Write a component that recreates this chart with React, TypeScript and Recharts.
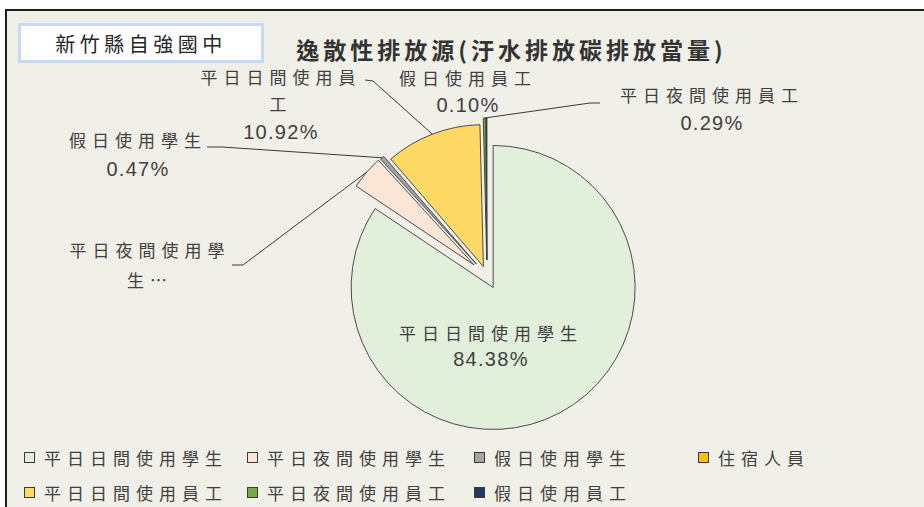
import React from 'react';
import { PieChart, Pie, Cell, Sector, Legend } from 'recharts';

// 逸散性排放源 – share of each user group (%)
const groups = ['平日日間使用學生', '平日夜間使用學生', '假日使用學生', '住宿人員', '平日日間使用員工', '平日夜間使用員工', '假日使用員工'];
const shares = [84.38, 3.84, 0.47, 0, 10.92, 0.29, 0.1];
const shareLabels = ['84.38%', '', '0.47%', '', '10.92%', '0.29%', '0.10%'];

const sliceColors = ['#e2efda', '#fbe5d6', '#a5a5a5', '#ffc000', '#ffd966', '#70ad47', '#203864'];
// how far each slice is pulled out of the pie (px)
const explode = [13, 17, 16, 16, 10, 16, 16];

const data = groups.map((name, i) => ({ name, value: shares[i] }));

const RAD = Math.PI / 180;
const TEXT = '#404040';
const CJK = "'Noto Sans CJK TC', 'Noto Sans CJK SC', sans-serif";
const LATIN = "'Liberation Sans', Arial, 'Noto Sans CJK TC', sans-serif";

// data label placement, Excel style (text centre, line y's, leader elbow)
const labelLayout: Record<number, { x: number; ys: number[]; lines: string[]; elbow?: number[][] }> = {
  0: { x: 491, ys: [332, 359], lines: [groups[0], shareLabels[0]] },
  1: { x: 150, ys: [249, 279], lines: ['平日夜間使用學', '生…'], elbow: [[232, 265], [243, 265]] },
  2: { x: 138, ys: [139, 169], lines: [groups[2], shareLabels[2]], elbow: [[207, 147], [222, 147]] },
  4: { x: 281, ys: [76, 103, 132], lines: ['平日日間使用員', '工', shareLabels[4]], elbow: [[365, 80], [373, 81]] },
  5: { x: 712, ys: [94, 123], lines: [groups[5], shareLabels[5]], elbow: [[600, 103], [590, 103]] },
  6: { x: 468, ys: [77, 105], lines: [groups[6], shareLabels[6]] },
};

const isLatin = (s: string) => /^[0-9.%]+$/.test(s);

const ExplodedSector = (props: any) => {
  const name = props.name ?? props.payload?.name;
  const idx = groups.indexOf(name);
  const off = explode[idx] ?? 0;
  const dx = off * Math.cos(-props.midAngle * RAD);
  const dy = off * Math.sin(-props.midAngle * RAD);
  return (
    <Sector
      cx={props.cx + dx}
      cy={props.cy + dy}
      innerRadius={props.innerRadius}
      outerRadius={props.outerRadius}
      startAngle={props.startAngle}
      endAngle={props.endAngle}
      fill={props.fill}
      stroke="#3a3a3a"
      strokeWidth={0.9}
    />
  );
};

const renderLabel = (props: any) => {
  const { index, cx, cy, outerRadius, midAngle } = props;
  const lay = labelLayout[index];
  if (!lay) return null;
  const r = outerRadius + (explode[index] ?? 0);
  const px = cx + r * Math.cos(-midAngle * RAD);
  const py = cy + r * Math.sin(-midAngle * RAD);
  return (
    <g>
      {lay.elbow && (
        <polyline
          points={[...lay.elbow, [px, py]].map((p) => p.join(',')).join(' ')}
          fill="none"
          stroke="#3a3a3a"
          strokeWidth={1}
        />
      )}
      {lay.lines.map((t, i) => (
        <text
          key={i}
          x={lay.x}
          y={lay.ys[i]}
          textAnchor="middle"
          dominantBaseline="central"
          fill={TEXT}
          fontSize={isLatin(t) ? 20 : 17}
          fontFamily={isLatin(t) ? LATIN : CJK}
          letterSpacing={isLatin(t) ? 1.3 : 6}
        >
          {t}
        </text>
      ))}
    </g>
  );
};

const legendCols = [24, 247, 474, 698];

const renderLegend = () => (
  <div style={{ position: 'relative', width: 924, height: 70 }}>
    {groups.map((g, i) => {
      const row = i < 4 ? 0 : 1;
      const col = i < 4 ? i : i - 4;
      return (
        <div
          key={g}
          style={{
            position: 'absolute',
            left: legendCols[col],
            top: row * 35,
            height: 22,
            display: 'flex',
            alignItems: 'center',
            whiteSpace: 'nowrap',
          }}
        >
          <span
            style={{
              width: 9,
              height: 9,
              background: sliceColors[i],
              border: '1px solid #3a3a3a',
              marginRight: 9,
              display: 'inline-block',
            }}
          />
          <span style={{ fontFamily: CJK, fontSize: 17, color: TEXT, letterSpacing: 6 }}>{g}</span>
        </div>
      );
    })}
  </div>
);

export default function App() {
  return (
    <div style={{ position: 'absolute', left: 0, top: 0, width: 924, height: 507, background: '#fff', overflow: 'hidden' }}>
      <div
        style={{
          position: 'absolute',
          left: 5,
          top: 9,
          width: 930,
          height: 510,
          background: '#f0efe8',
          borderLeft: '2px solid #1e1e1e',
          borderTop: '2px solid #1e1e1e',
          boxSizing: 'border-box',
        }}
      />
      <div
        style={{
          position: 'absolute',
          left: 18,
          top: 23,
          width: 246,
          height: 40,
          background: '#fff',
          border: '3px solid #c6d9f5',
          boxSizing: 'border-box',
          display: 'flex',
          alignItems: 'center',
          justifyContent: 'center',
          fontFamily: CJK,
          fontSize: 20,
          letterSpacing: 4.5,
          color: '#262626',
        }}
      >
        新竹縣自強國中
      </div>
      <div
        style={{
          position: 'absolute',
          left: 289,
          top: 33,
          width: 445,
          textAlign: 'center',
          fontFamily: CJK,
          fontWeight: 'bold',
          fontSize: 23,
          letterSpacing: 4,
          color: '#333',
          lineHeight: '32px',
          whiteSpace: 'nowrap',
        }}
      >
        逸散性排放源(汙水排放碳排放當量)
      </div>
      <div style={{ position: 'absolute', left: 0, top: 0 }}>
        <PieChart width={924} height={507} margin={{ top: 0, right: 0, bottom: 0, left: 0 }}>
          <Pie
            data={data}
            dataKey="value"
            nameKey="name"
            cx={487}
            cy={276}
            outerRadius={142}
            startAngle={90}
            endAngle={-270}
            stroke="#3a3a3a"
            strokeWidth={0.9}
            shape={ExplodedSector}
            label={renderLabel}
            labelLine={false}
            isAnimationActive={false}
          >
            {data.map((d, i) => (
              <Cell key={d.name} fill={sliceColors[i]} />
            ))}
          </Pie>
          <Legend content={renderLegend} wrapperStyle={{ position: 'absolute', left: 0, top: 446, width: 924 }} />
        </PieChart>
      </div>
    </div>
  );
}
